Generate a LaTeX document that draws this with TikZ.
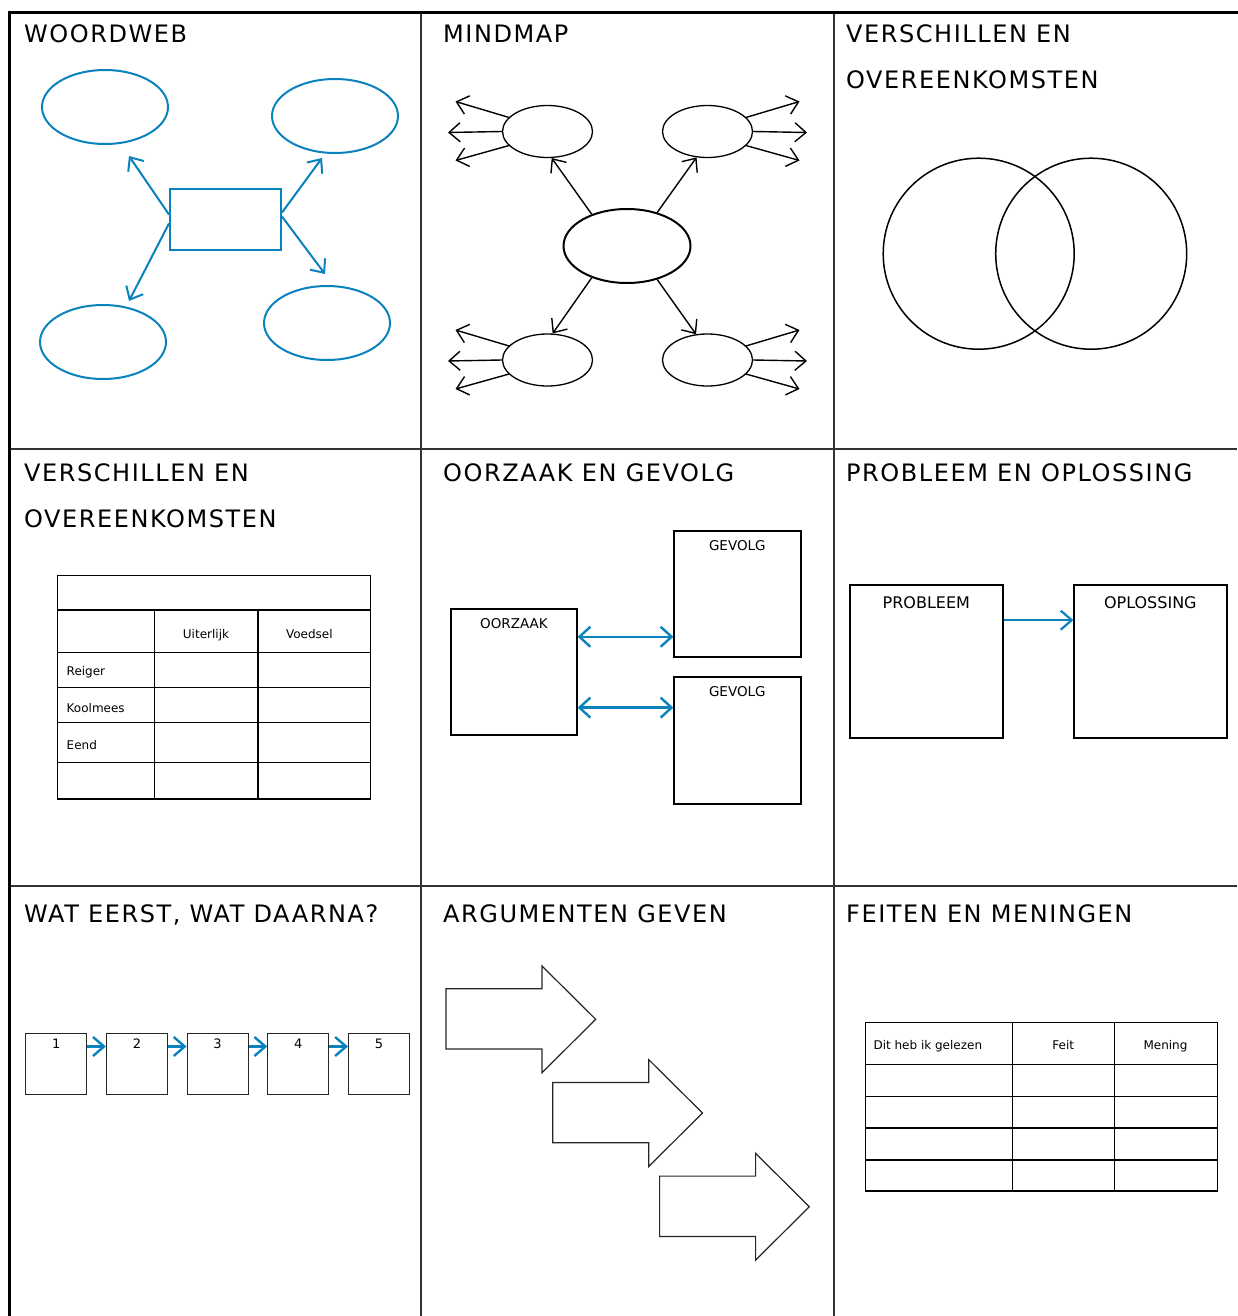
\documentclass[tikz,border=0pt]{standalone}
\usepackage{fontspec}
\setmainfont{DejaVu Sans}
\newfontfamily\headfont[LetterSpace=6.5]{DejaVu Sans}
\usetikzlibrary{arrows.meta,shapes.geometric}
\definecolor{wblue}{RGB}{10,130,190}
\definecolor{gridc}{RGB}{50,50,50}
\begin{document}
\begin{tikzpicture}[x=1pt,y=-1pt,
  head/.style={anchor=base west,inner sep=0,font={\headfont\fontsize{24}{28}\selectfont}},
  smallc/.style={anchor=base,inner sep=0,font={\fontsize{12}{14}\selectfont}},
  smalll/.style={anchor=base west,inner sep=0,font={\fontsize{12}{14}\selectfont}},
  midc/.style={anchor=base,inner sep=0,font={\fontsize{13.5}{16}\selectfont}},
  bigc/.style={anchor=base,inner sep=0,font={\fontsize{16}{18}\selectfont}},
  numc/.style={anchor=base,inner sep=0,font={\fontsize{13}{15}\selectfont}},
  barb/.style={-{Straight Barb[length=11pt,width=19pt]}},
  dbarb/.style={{Straight Barb[length=11pt,width=20pt]}-{Straight Barb[length=11pt,width=20pt]}},
  barrow/.style={barb,draw=wblue,line width=2pt},
  karrow/.style={barb,draw=black,line width=1.4pt},
  wbell/.style={ellipse,draw=wblue,line width=2pt,minimum width=126pt,minimum height=74pt,inner sep=0},
  mmell/.style={ellipse,draw=black,line width=1.3pt,minimum width=90pt,minimum height=52pt,inner sep=0},
  boxk/.style={draw=black,line width=1.8pt,inner sep=0},
  tbox/.style={draw=black!85,line width=1.1pt,inner sep=0,minimum width=61pt,minimum height=60.7pt},
  tline/.style={draw=black,line width=1.3pt},
  bigarrow/.style={draw=black!85,line width=1.2pt,line join=miter},
]
\useasboundingbox (0,0) rectangle (1237,1316);
\fill[white] (0,0) rectangle (1237,1316);

% grid
\draw[gridc,line width=1.3pt] (421,13) -- (421,1316);
\draw[gridc,line width=1.3pt] (834,13) -- (834,1316);
\draw[gridc,line width=1.3pt] (9,449) -- (1237,449);
\draw[gridc,line width=1.3pt] (9,886) -- (1237,886);
\draw[black,line width=3pt,line join=miter] (9,1320) -- (9,13) -- (1240,13);

% headings
\node[head] (h1) at (24,43) {WOORDWEB};
\node[head] (h2) at (443,43) {MINDMAP};
\node[head] (h3a) at (846,43) {VERSCHILLEN EN};
\node[head] (h3b) at (846,89) {OVEREENKOMSTEN};
\node[head] (h4a) at (24,481) {VERSCHILLEN EN};
\node[head] (h4b) at (24,527) {OVEREENKOMSTEN};
\node[head] (h5) at (443,481) {OORZAAK EN GEVOLG};
\node[head] (h6) at (846,481) {PROBLEEM EN OPLOSSING};
\node[head] (h7) at (24,922) {WAT EERST, WAT DAARNA?};
\node[head] (h8) at (443,922) {ARGUMENTEN GEVEN};
\node[head] (h9) at (846,922) {FEITEN EN MENINGEN};

% WOORDWEB
\node[wbell] (wtl) at (105,107) {};
\node[wbell] (wtr) at (335,116) {};
\node[wbell] (wbl) at (103,342) {};
\node[wbell] (wbr) at (327,323) {};
\node[draw=wblue,line width=2pt,minimum width=111pt,minimum height=61pt,inner sep=0] (wr) at (225.5,219.5) {};
\coordinate (wt1) at (129,156);
\coordinate (wt2) at (322,158);
\coordinate (wt3) at (129,301);
\coordinate (wt4) at (325,274);
\draw[barrow] (wr.175) -- (wt1);
\draw[barrow] (wr.7) -- (wt2);
\draw[barrow] (wr.184) -- (wt3);
\draw[barrow] (wr.3) -- (wt4);

% MINDMAP
\node[ellipse,draw=black,line width=2pt,minimum width=127pt,minimum height=74pt,inner sep=0] (mc) at (627,246) {};
\node[mmell] (mtl) at (547.5,131.5) {};
\node[mmell] (mtr) at (707.5,131.5) {};
\node[mmell] (mbl) at (547.5,360) {};
\node[mmell] (mbr) at (707.5,360) {};
\draw[karrow] (mc.138) -- (mtl.-81);
\draw[karrow] (mc.48) -- (mtr.-113);
\draw[karrow] (mc.222) -- (mbl.79);
\draw[karrow] (mc.-48) -- (mbr.114);
\foreach \n/\cx/\cy/\s/\aa/\ab/\ac in {mtl/547.5/131.5/-1/160/180/200, mtr/707.5/131.5/1/20/0/-20, mbl/547.5/360/-1/160/180/200, mbr/707.5/360/1/20/0/-20}{
  \coordinate (\n-a) at ({\cx+\s*92},{\cy-30});
  \coordinate (\n-b) at ({\cx+\s*99.5},{\cy+1});
  \coordinate (\n-c) at ({\cx+\s*92},{\cy+29});
  \draw[karrow] (\n.\aa) -- (\n-a);
  \draw[karrow] (\n.\ab) -- (\n-b);
  \draw[karrow] (\n.\ac) -- (\n-c);
}

% VENN
\node[circle,draw=black,line width=1.5pt,minimum size=191pt,inner sep=0] (v1) at (978.7,253.7) {};
\node[circle,draw=black,line width=1.5pt,minimum size=191pt,inner sep=0] (v2) at (1091.2,253.7) {};

% TABLE (verschillen)
\draw[tline] (57.7,575.7) rectangle (370.7,799);
\foreach \y in {610,652.7,687.7,722.7,762.3} \draw[tline] (57.7,\y) -- (370.7,\y);
\foreach \x in {154.3,258} \draw[tline] (\x,610) -- (\x,799);
\node[smallc] (t4u) at (206,638) {Uiterlijk};
\node[smallc] (t4v) at (309.3,638) {Voedsel};
\node[smalll] (t4r) at (66.5,675.5) {Reiger};
\node[smalll] (t4k) at (66.5,712) {Koolmees};
\node[smalll] (t4e) at (66.5,749) {Eend};

% OORZAAK EN GEVOLG
\node[boxk,minimum width=126pt,minimum height=126.3pt] (oz) at (513.7,672.2) {};
\node[boxk,minimum width=126.4pt,minimum height=126pt] (g1) at (737.5,594) {};
\node[boxk,minimum width=126.4pt,minimum height=127pt] (g2) at (737.5,740.2) {};
\node[midc] (ozt) at (514,628.7) {OORZAAK};
\node[midc] (g1t) at (737.3,550) {GEVOLG};
\node[midc] (g2t) at (737.3,696) {GEVOLG};
\draw[dbarb,draw=wblue,line width=2.4pt] (oz.29) -- (oz.29 -| g1.west);
\draw[dbarb,draw=wblue,line width=2.4pt] (oz.-29) -- (oz.-29 -| g2.west);

% PROBLEEM EN OPLOSSING
\node[boxk,minimum width=153pt,minimum height=152.7pt] (pb) at (926.5,661.3) {};
\node[boxk,minimum width=153pt,minimum height=152.7pt] (op) at (1150.8,661.3) {};
\node[bigc] (pbt) at (926.3,608.3) {PROBLEEM};
\node[bigc] (opt) at (1150.3,608.3) {OPLOSSING};
\draw[barrow,line width=2.2pt] (pb.28) -- (pb.28 -| op.west);

% WAT EERST, WAT DAARNA
\foreach \i in {1,...,5}{
  \node[tbox] (s\i) at ({56.2+80.7*(\i-1)},1063.7) {};
  \node[numc] (n\i) at ({56.2+80.7*(\i-1)},1048.3) {\i};
}
\foreach \i/\j in {1/2,2/3,3/4,4/5}{
  \draw[barrow,line width=2.4pt] (s\i.29) -- (s\i.29 -| s\j.west);
}

% ARGUMENTEN GEVEN
\foreach \k in {0,1,2}{
  \begin{scope}[shift={({106.8*\k},{93.7*\k})}]
    \draw[bigarrow] (446,988.7) -- (542,988.7) -- (542,966) -- (595.7,1019.3) -- (542,1072.7) -- (542,1049) -- (446,1049) -- cycle;
  \end{scope}
}

% FEITEN EN MENINGEN
\draw[tline] (865.7,1022.7) rectangle (1217.3,1191);
\foreach \y in {1064.3,1096.3,1128,1160} \draw[tline] (865.7,\y) -- (1217.3,\y);
\foreach \x in {1012.3,1114.3} \draw[tline] (\x,1022.7) -- (\x,1191);
\node[smalll] (t9a) at (873.3,1049.3) {Dit heb ik gelezen};
\node[smallc] (t9b) at (1063.3,1049.3) {Feit};
\node[smallc] (t9c) at (1165.5,1049.3) {Mening};
\end{tikzpicture}
\end{document}
